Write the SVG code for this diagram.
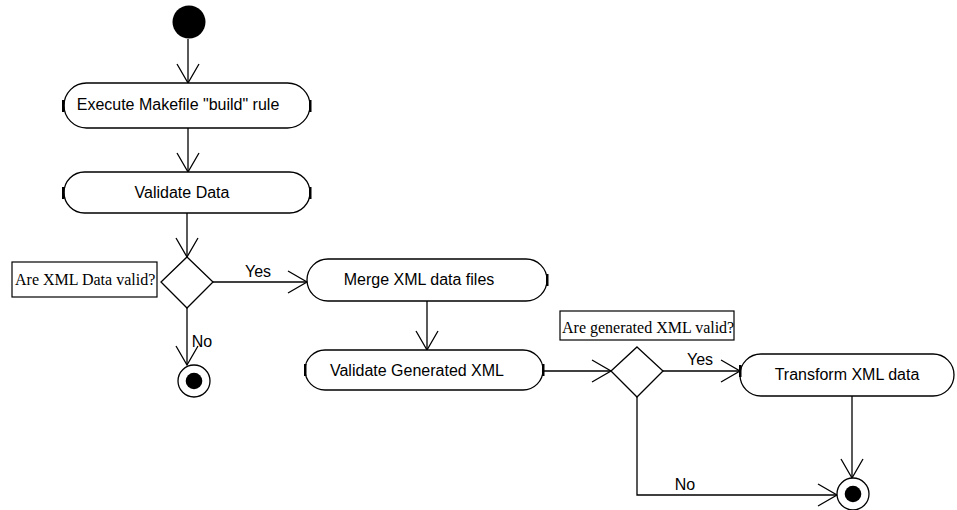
<svg xmlns="http://www.w3.org/2000/svg" width="957" height="510" viewBox="0 0 957 510">
<style>
.act{fill:#fff;stroke:#000;stroke-width:1.3}
.tk{fill:#000}
.t{font-family:"Liberation Sans",Arial,sans-serif;font-size:16px;fill:#000;text-anchor:middle}
.n{font-family:"Liberation Serif","Times New Roman",serif;font-size:16px;fill:#000}
.nb{fill:#fff;stroke:#000;stroke-width:1.2}
.c{fill:none;stroke:#000;stroke-width:1.3}
</style>
<defs>
<marker id="ar" markerUnits="userSpaceOnUse" markerWidth="24" markerHeight="26" refX="21" refY="12" orient="auto" viewBox="0 0 24 24">
<path d="M2,1 L21,12 L2,23" fill="none" stroke="#000" stroke-width="1.3"/>
</marker>
</defs>
<rect width="957" height="510" fill="#fff"/>
<g id="connectors">
<path class="c" d="M188,39 V83" marker-end="url(#ar)"/>
<path class="c" d="M188,128 V172" marker-end="url(#ar)"/>
<path class="c" d="M187,213 V257" marker-end="url(#ar)"/>
<path class="c" d="M213,282 H307" marker-end="url(#ar)"/>
<path class="c" d="M187,308 V365" marker-end="url(#ar)"/>
<path class="c" d="M427,301 V350" marker-end="url(#ar)"/>
<path class="c" d="M543,371 H611" marker-end="url(#ar)"/>
<path class="c" d="M663,371 H740" marker-end="url(#ar)"/>
<path class="c" d="M852,396 V478" marker-end="url(#ar)"/>
<path class="c" d="M637,397 V495 H837" marker-end="url(#ar)"/>
<text class="t" x="258" y="277">Yes</text>
<text class="t" x="202" y="347">No</text>
<text class="t" x="700" y="365">Yes</text>
<text class="t" x="685" y="490">No</text>
</g>
<g id="start"><circle cx="189" cy="22" r="16.5" fill="#000"/></g>
<g id="execute">
<rect class="act" x="64" y="83" width="246" height="45" rx="22.5"/>
<rect class="tk" x="62" y="100" width="2.5" height="12"/>
<rect class="tk" x="309" y="100" width="2.5" height="12"/>
<text class="t" x="178" y="110">Execute Makefile "build" rule</text>
</g>
<g id="validate-data">
<rect class="act" x="64" y="172" width="246" height="41" rx="20.5"/>
<rect class="tk" x="62" y="187" width="2.5" height="12"/>
<rect class="tk" x="309" y="187" width="2.5" height="12"/>
<text class="t" x="182" y="198">Validate Data</text>
</g>
<g id="decision1">
<polygon class="act" points="187,257 213,282 187,308 161,282"/>
</g>
<g id="note1">
<rect class="nb" x="12" y="262" width="145" height="35"/>
<text class="n" x="15" y="285">Are XML Data valid?</text>
</g>
<g id="end1">
<circle cx="194" cy="381" r="16" fill="#fff" stroke="#000" stroke-width="1.3"/>
<circle cx="194" cy="381" r="8.3" fill="#000"/>
</g>
<g id="merge">
<rect class="act" x="307" y="259" width="240" height="42" rx="21"/>
<rect class="tk" x="546" y="274" width="2.5" height="12"/>
<text class="t" x="419" y="285">Merge XML data files</text>
</g>
<g id="validate-generated">
<rect class="act" x="305" y="350" width="238" height="40" rx="20"/>
<rect class="tk" x="304" y="364" width="2.5" height="12"/>
<rect class="tk" x="542" y="364" width="2.5" height="12"/>
<text class="t" x="417" y="376">Validate Generated XML</text>
</g>
<g id="decision2">
<polygon class="act" points="637,347 663,371 637,397 611,371"/>
</g>
<g id="note2">
<rect class="nb" x="560" y="311" width="174" height="29"/>
<text class="n" x="562" y="333">Are generated XML valid?</text>
</g>
<g id="transform">
<rect class="act" x="740" y="354" width="214" height="42" rx="21"/>
<rect class="tk" x="739" y="365" width="2.5" height="12"/>
<text class="t" x="847" y="380">Transform XML data</text>
</g>
<g id="end2">
<circle cx="853" cy="494" r="16" fill="#fff" stroke="#000" stroke-width="1.3"/>
<circle cx="853" cy="494" r="8.3" fill="#000"/>
</g>
</svg>
